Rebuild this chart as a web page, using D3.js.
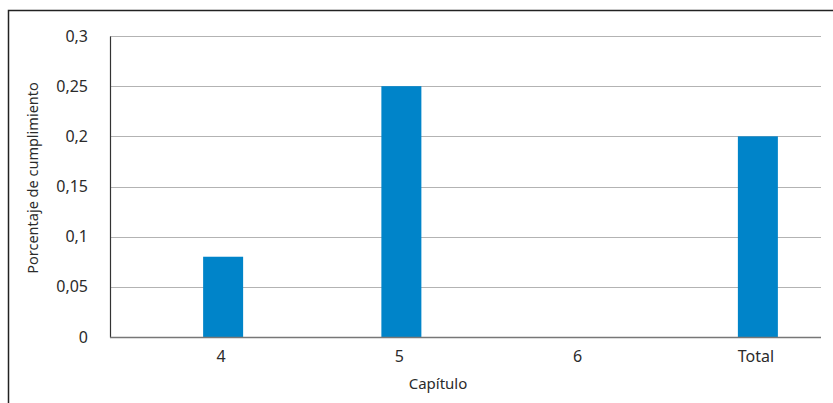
<!DOCTYPE html>
<html>
<head>
<meta charset="utf-8">
<script src="https://cdn.jsdelivr.net/npm/d3@7"></script>
<style>
  html, body { margin: 0; padding: 0; background: #fff; }
  svg { display: block; }
  text { font-family: "Noto Sans", "Open Sans", sans-serif; fill: #2b2b2b; }
</style>
</head>
<body>
<svg id="chart" width="833" height="403"></svg>
<script>
const categories = ["4", "5", "6", "Total"];
const values = [0.08, 0.25, 0, 0.2];
const yTicks = [0, 0.05, 0.1, 0.15, 0.2, 0.25, 0.3];
const yTickLabels = ["0", "0,05", "0,1", "0,15", "0,2", "0,25", "0,3"];
const yTitle = "Porcentaje de cumplimiento";
const xTitle = "Capítulo";

const svg = d3.select("#chart");
const plot = { left: 110, right: 821, top: 36, bottom: 337 };

// outer frame (extends beyond the visible window)
svg.append("rect")
  .attr("x", 8.5).attr("y", 10.5)
  .attr("width", 1000).attr("height", 1000)
  .attr("fill", "none").attr("stroke", "#222").attr("stroke-width", 1.5);

const y = d3.scaleLinear().domain([0, 0.3]).range([plot.bottom, plot.top]);
const x = d3.scalePoint().domain(categories).range([134, 847]).padding(0.5);
const barW = 40;

// gridlines
svg.append("g").selectAll("line")
  .data(yTicks.filter(d => d > 0))
  .join("line")
  .attr("x1", plot.left).attr("x2", plot.right)
  .attr("y1", d => Math.round(y(d)) + 0.5).attr("y2", d => Math.round(y(d)) + 0.5)
  .attr("stroke", "#b3b3b3").attr("stroke-width", 1.2);

// bars
svg.append("g").selectAll("rect")
  .data(values)
  .join("rect")
  .attr("x", (d, i) => x(categories[i]) - barW / 2)
  .attr("y", d => y(d))
  .attr("width", barW)
  .attr("height", d => plot.bottom - y(d))
  .attr("fill", "#0084c9");

// y axis
const yAxis = d3.axisLeft(y).tickValues(yTicks)
  .tickFormat((d, i) => yTickLabels[i]).tickSize(0).tickPadding(22);
const gy = svg.append("g").attr("transform", `translate(${plot.left},0)`).call(yAxis);
gy.select(".domain").attr("stroke", "#333").attr("stroke-width", 1.2);
gy.selectAll("text").attr("font-size", 16).attr("fill", "#2b2b2b")
  .attr("font-family", "\"Noto Sans\", sans-serif");

// x axis line
svg.append("line")
  .attr("x1", plot.left).attr("x2", plot.right)
  .attr("y1", plot.bottom + 0.5).attr("y2", plot.bottom + 0.5)
  .attr("stroke", "#777").attr("stroke-width", 1.5);

// x tick labels
svg.append("g").selectAll("text")
  .data(categories)
  .join("text")
  .attr("x", d => x(d) - 2)
  .attr("y", 362)
  .attr("text-anchor", "middle")
  .attr("font-size", 16)
  .text(d => d);

// axis titles
svg.append("text")
  .attr("transform", "translate(38,178) rotate(-90)")
  .attr("text-anchor", "middle")
  .attr("font-size", 14.5)
  .text(yTitle);

svg.append("text")
  .attr("x", 438).attr("y", 389)
  .attr("text-anchor", "middle")
  .attr("font-size", 15)
  .text(xTitle);
</script>
</body>
</html>
